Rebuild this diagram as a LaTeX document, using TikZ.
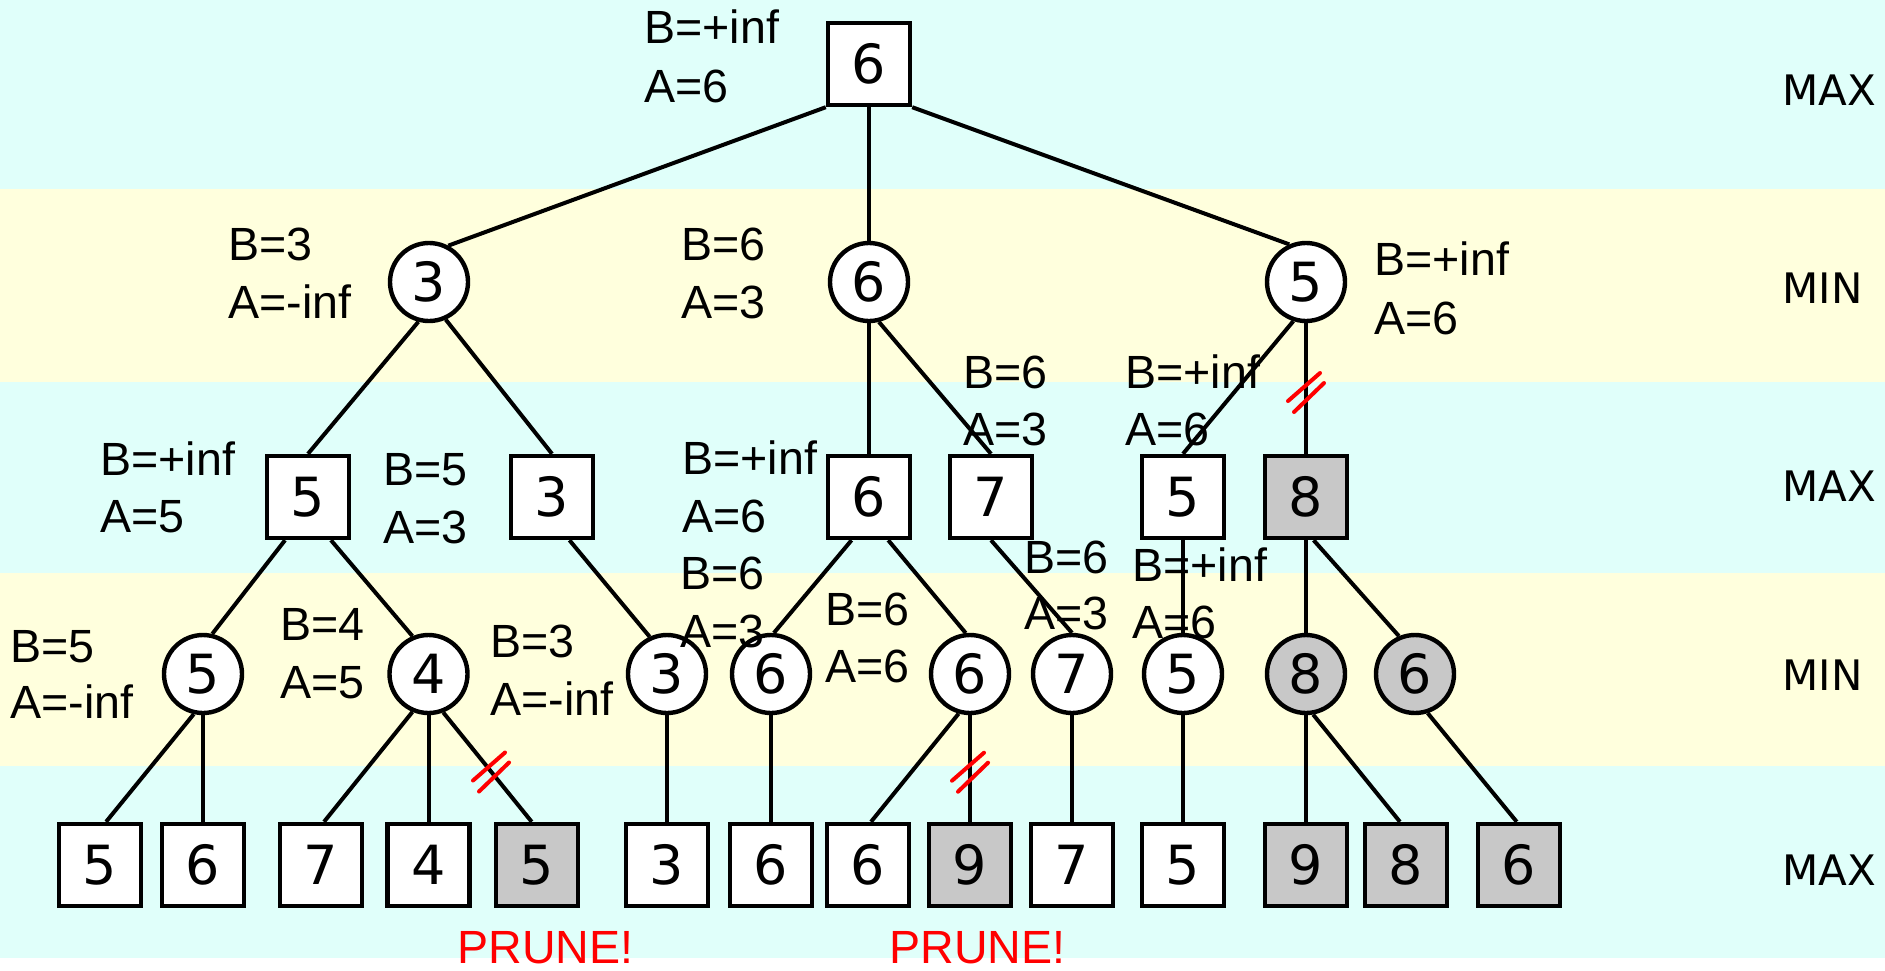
\documentclass[tikz,border=0pt]{standalone}
\usepackage{fontspec}
\setmainfont{Liberation Sans}
\newfontfamily\dvsans{DejaVu Sans}
\definecolor{bandc}{RGB}{224,255,250}
\definecolor{bandy}{RGB}{255,255,221}
\definecolor{cutgray}{RGB}{200,200,200}
\begin{document}
\begin{tikzpicture}[x=0.5pt,y=-0.5pt,
  maxnode/.style={draw, line width=2.2pt, fill=white, minimum size=41pt, inner sep=0pt, font=\dvsans\fontsize{27}{27}\selectfont},
  minnode/.style={circle, draw, line width=2.2pt, fill=white, minimum size=39pt, inner sep=0pt, font=\dvsans\fontsize{27}{27}\selectfont},
  cut/.style={fill=cutgray},
  link/.style={line width=2pt},
  lbl/.style={anchor=base west, inner sep=0pt, font=\fontsize{23.3}{28}\selectfont},
  lvl/.style={anchor=base west, inner sep=0pt, font=\dvsans\fontsize{21}{21}\selectfont},
  prunelbl/.style={lbl, text=red},
  slash/.style={draw=red, line width=2pt, line cap=round}]
\useasboundingbox (0,0) rectangle (1885,970);
% bands
\fill[white] (0,0) rectangle (1885,970);
\fill[bandc] (0,0) rectangle (1885,189);
\fill[bandy] (0,189) rectangle (1885,382);
\fill[bandc] (0,382) rectangle (1885,573);
\fill[bandy] (0,573) rectangle (1885,766);
\fill[bandc] (0,766) rectangle (1885,958);
% level labels
\node[lvl] (lv0) at (1782,105) {MAX};
\node[lvl] (lv1) at (1782,303) {MIN};
\node[lvl] (lv2) at (1782,501) {MAX};
\node[lvl] (lv3) at (1782,690) {MIN};
\node[lvl] (lv4) at (1782,885) {MAX};
% nodes
\node[maxnode] (root) at (869,64) {6};
\node[minnode] (m1) at (429,282) {3};
\node[minnode] (m2) at (869,282) {6};
\node[minnode] (m3) at (1306,282) {5};
\node[maxnode] (s1) at (308,497) {5};
\node[maxnode] (s2) at (552,497) {3};
\node[maxnode] (s3) at (869,497) {6};
\node[maxnode] (s4) at (991,497) {7};
\node[maxnode] (s5) at (1183,497) {5};
\node[maxnode,cut] (s6) at (1306,497) {8};
\node[minnode] (n1) at (203,674) {5};
\node[minnode] (n2) at (428.5,674) {4};
\node[minnode] (n3) at (667,674) {3};
\node[minnode] (n4) at (771,674) {6};
\node[minnode] (n5) at (970,674) {6};
\node[minnode] (n6) at (1072,674) {7};
\node[minnode] (n7) at (1183,674) {5};
\node[minnode,cut] (n8) at (1306,674) {8};
\node[minnode,cut] (n9) at (1415,674) {6};
\node[maxnode] (l1) at (100,865) {5};
\node[maxnode] (l2) at (203,865) {6};
\node[maxnode] (l3) at (321,865) {7};
\node[maxnode] (l4) at (428.5,865) {4};
\node[maxnode,cut] (l5) at (537,865) {5};
\node[maxnode] (l6) at (667,865) {3};
\node[maxnode] (l7) at (771,865) {6};
\node[maxnode] (l8) at (868,865) {6};
\node[maxnode,cut] (l9) at (970,865) {9};
\node[maxnode] (l10) at (1072,865) {7};
\node[maxnode] (l11) at (1183,865) {5};
\node[maxnode,cut] (l12) at (1306,865) {9};
\node[maxnode,cut] (l13) at (1406,865) {8};
\node[maxnode,cut] (l14) at (1519,865) {6};
% edges
\draw[link] (root.south west) -- (m1.62);
\draw[link] (root.south) -- (m2.north);
\draw[link] (root.south east) -- (m3.114);
\draw[link] (m1.255) -- (s1.north);
\draw[link] (m1.294) -- (s2.north);
\draw[link] (m2.south) -- (s3.north);
\draw[link] (m2.284) -- (s4.north);
\draw[link] (m3.252) -- (s5.north);
\draw[link] (m3.south) -- coordinate[pos=0.527] (cut1) (s6.north);
\draw[link] (s1.242) -- (n1.77);
\draw[link] (s1.298) -- (n2.113);
\draw[link] (s2.292) -- (n3.115);
\draw[link] (s3.248) -- (n4.86);
\draw[link] (s3.294) -- (n5.96);
\draw[link] (s4.south) -- (n6.north);
\draw[link] (s5.south) -- (n7.north);
\draw[link] (s6.south) -- (n8.north);
\draw[link] (s6.280) -- (n9.113);
\draw[link] (n1.257) -- (l1.82);
\draw[link] (n1.south) -- (l2.north);
\draw[link] (n2.247) -- (l3.86);
\draw[link] (n2.south) -- (l4.north);
\draw[link] (n2.291) -- coordinate[pos=0.54] (cut2) (l5.97);
\draw[link] (n3.south) -- (l6.north);
\draw[link] (n4.south) -- (l7.north);
\draw[link] (n5.254) -- (l8.86);
\draw[link] (n5.south) -- coordinate[pos=0.53] (cut3) (l9.north);
\draw[link] (n6.south) -- (l10.north);
\draw[link] (n7.south) -- (l11.north);
\draw[link] (n8.south) -- (l12.north);
\draw[link] (n8.280) -- (l13.98);
\draw[link] (n9.288) -- (l14.93);
% prune marks
\foreach \c in {cut1,cut2,cut3}{
  \draw[slash] ([shift={(-18,9)}]\c) -- ([shift={(14,-19)}]\c);
  \draw[slash] ([shift={(-12,20)}]\c) -- ([shift={(18,-9)}]\c);
}
% alpha-beta labels
\node[lbl] (t1b) at (644,43) {B=+inf};
\node[lbl] (t1a) at (644,102) {A=6};
\node[lbl] (t2b) at (228,260) {B=3};
\node[lbl] (t2a) at (228,318) {A=-inf};
\node[lbl] (t3b) at (681,260) {B=6};
\node[lbl] (t3a) at (681,318) {A=3};
\node[lbl] (t4b) at (1374,275) {B=+inf};
\node[lbl] (t4a) at (1374,334) {A=6};
\node[lbl] (t5b) at (963,388) {B=6};
\node[lbl] (t5a) at (963,445) {A=3};
\node[lbl] (t6b) at (1125,388) {B=+inf};
\node[lbl] (t6a) at (1125,445) {A=6};
\node[lbl] (t7b) at (100,475) {B=+inf};
\node[lbl] (t7a) at (100,532) {A=5};
\node[lbl] (t8b) at (383,485) {B=5};
\node[lbl] (t8a) at (383,543) {A=3};
\node[lbl] (t9b) at (682,474) {B=+inf};
\node[lbl] (t9a) at (682,532) {A=6};
\node[lbl] (t10b) at (680,589) {B=6};
\node[lbl] (t10a) at (680,647) {A=3};
\node[lbl] (t11b) at (825,625) {B=6};
\node[lbl] (t11a) at (825,682) {A=6};
\node[lbl] (t12b) at (1024,573) {B=6};
\node[lbl] (t12a) at (1024,629) {A=3};
\node[lbl] (t13b) at (1132,581) {B=+inf};
\node[lbl] (t13a) at (1132,638) {A=6};
\node[lbl] (t14b) at (10,662) {B=5};
\node[lbl] (t14a) at (10,718) {A=-inf};
\node[lbl] (t15b) at (280,640) {B=4};
\node[lbl] (t15a) at (280,698) {A=5};
\node[lbl] (t16b) at (490,657) {B=3};
\node[lbl] (t16a) at (490,715) {A=-inf};
\node[prunelbl] (p1) at (457,963) {PRUNE!};
\node[prunelbl] (p2) at (889,963) {PRUNE!};
\end{tikzpicture}
\end{document}
